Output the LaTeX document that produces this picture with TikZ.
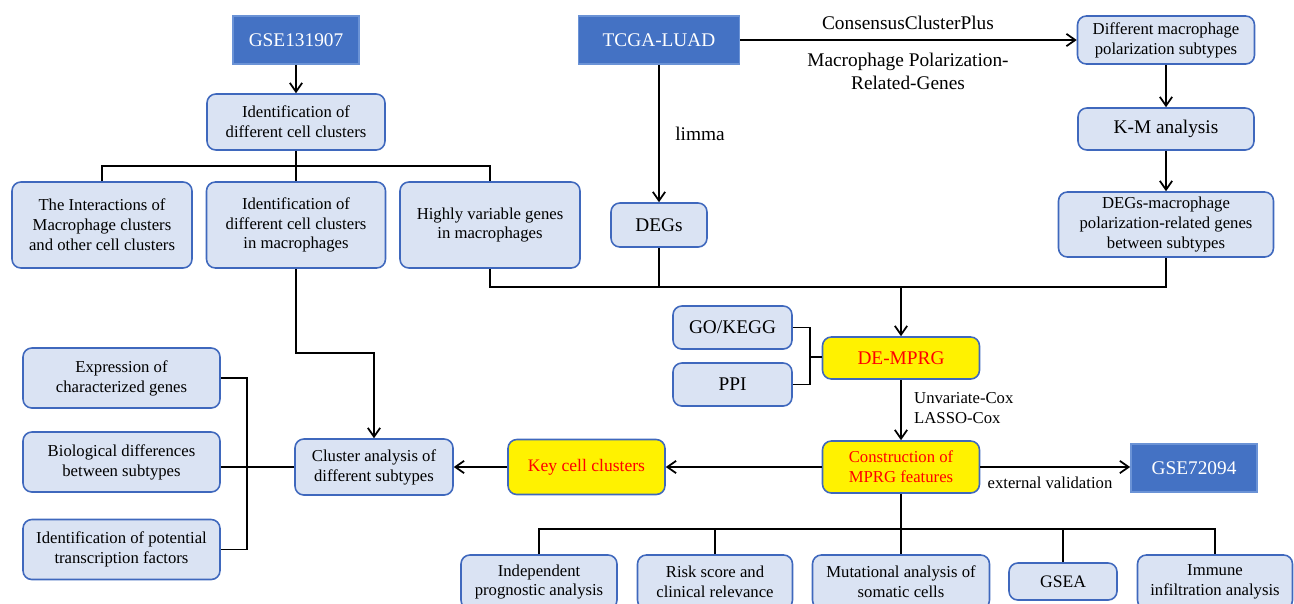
\documentclass[tikz,border=0pt]{standalone}
\usepackage{fontspec}
\setmainfont{Liberation Serif}
\usepackage{tikz}
\usetikzlibrary{arrows.meta}
\definecolor{darkbox}{HTML}{4472C4}
\definecolor{darkedge}{HTML}{6B93D6}
\definecolor{lightfill}{HTML}{DAE3F3}
\definecolor{edgeblue}{HTML}{3F68BD}

\begin{document}
\begin{tikzpicture}[x=0.02cm,y=-0.02cm,
	dataset/.style={draw=darkedge,line width=1pt,fill=darkbox,text=white,font=\fontsize{11}{13}\selectfont,inner sep=0pt},
	stepbox/.style={draw=edgeblue,line width=0.9pt,fill=lightfill,rounded corners=5pt,align=center,font=\fontsize{9.5}{11.3}\selectfont,inner sep=0pt},
	bigtxt/.style={font=\fontsize{11}{13}\selectfont},
	keybox/.style={stepbox,fill=yellow,text=red},
	link/.style={line width=1pt},
	arr/.style={link,-{Straight Barb[length=5pt,width=7pt]}}]
		\clip (0,0) rectangle (1294,603);
		% data sets and top row
		\node[dataset,minimum width=2.52cm,minimum height=0.96cm] (gse131) at (296,40) {GSE131907};
		\node[dataset,minimum width=3.22cm,minimum height=0.96cm] (tcga) at (659,40) {TCGA-LUAD};
		\node[stepbox,minimum width=3.54cm,minimum height=0.96cm] (subtypes) at (1166,40) {Different macrophage\\polarization subtypes};
		\node[stepbox,bigtxt,minimum width=3.52cm,minimum height=0.84cm] (km) at (1166,129) {K-M analysis};
		\node[stepbox,minimum width=4.3cm,minimum height=1.3cm] (degsmp) at (1166,224.5) {DEGs-macrophage\\polarization-related genes\\between subtypes};
		\node[stepbox,bigtxt,minimum width=1.92cm,minimum height=0.88cm] (degs) at (659,225) {DEGs};
		% single cell branch
		\node[stepbox,minimum width=3.56cm,minimum height=1.12cm] (cellcl) at (296,122) {Identification of\\different cell clusters};
		\node[stepbox,minimum width=3.6cm,minimum height=1.72cm] (interact) at (102,225) {The Interactions of\\Macrophage clusters\\and other cell clusters};
		\node[stepbox,minimum width=3.58cm,minimum height=1.72cm] (macrocl) at (296,225) {Identification of\\different cell clusters\\in macrophages};
		\node[stepbox,minimum width=3.6cm,minimum height=1.72cm] (hvg) at (490,225) {Highly variable genes\\in macrophages};
		% middle
		\node[stepbox,bigtxt,minimum width=2.38cm,minimum height=0.86cm] (gokegg) at (732.5,327.5) {GO/KEGG};
		\node[stepbox,bigtxt,minimum width=2.38cm,minimum height=0.86cm] (ppi) at (732.5,384.5) {PPI};
		\node[keybox,bigtxt,minimum width=3.14cm,minimum height=0.84cm] (dempg) at (901,358) {DE-MPRG};
		\node[keybox,minimum width=3.14cm,minimum height=1.04cm] (mprgfeat) at (901,467) {Construction of\\MPRG features};
		\node[keybox,font=\fontsize{10}{12}\selectfont,minimum width=3.14cm,minimum height=1.1cm] (keycell) at (586.5,467) {Key cell clusters};
		\node[stepbox,minimum width=3.16cm,minimum height=1.12cm] (clusan) at (374,467) {Cluster analysis of\\different subtypes};
		\node[dataset,minimum width=2.52cm,minimum height=0.96cm] (gse72) at (1194,468) {GSE72094};
		% left column
		\node[stepbox,minimum width=3.94cm,minimum height=1.2cm] (exprg) at (121.5,378) {Expression of\\characterized genes};
		\node[stepbox,minimum width=3.94cm,minimum height=1.2cm] (biodiff) at (121.5,462) {Biological differences\\between subtypes};
		\node[stepbox,minimum width=3.94cm,minimum height=1.2cm] (tfact) at (121.5,549.5) {Identification of potential\\transcription factors};
		% bottom row
		\node[stepbox,minimum width=3.12cm,minimum height=1.08cm] (indep) at (539,582) {Independent\\prognostic analysis};
		\node[stepbox,minimum width=3.1cm,minimum height=1.08cm] (risk) at (715,582) {Risk score and\\clinical relevance};
		\node[stepbox,minimum width=3.54cm,minimum height=1.08cm] (mutat) at (901,582) {Mutational analysis of\\somatic cells};
		\node[stepbox,font=\fontsize{10}{12}\selectfont,minimum width=2.16cm,minimum height=0.74cm] (gsea) at (1063,581.5) {GSEA};
		\node[stepbox,minimum width=3.1cm,minimum height=1.08cm] (immune) at (1215,582) {Immune\\infiltration analysis};
		% labels
		\node[bigtxt] (ccp) at (908,23) {ConsensusClusterPlus};
		\node[bigtxt,align=center] (mpgenes) at (908,71) {Macrophage Polarization-\\Related-Genes};
		\node[bigtxt] (limma) at (700,134) {limma};
		\node[font=\fontsize{9.5}{11.3}\selectfont,align=left,anchor=west] (coxlbl) at (908,408) {Unvariate-Cox\\LASSO-Cox};
		\node[font=\fontsize{9.5}{11.3}\selectfont] (extval) at (1050,483) {external validation};
		% joints
		\coordinate (split1) at (296,166);
		\coordinate (merge) at (901,287);
		\coordinate (bend) at (374,353);
		\coordinate (gojoin) at (810,357);
		\coordinate (lbrack) at (247,467);
		\coordinate (split2) at (901,529);
		% connectors
		\draw[arr] (gse131) -- (cellcl);
		\draw[link] (cellcl.south) -- (macrocl.north);
		\draw[link] (interact.north) |- (split1) -| (hvg.north);
		\draw[arr] (tcga) -- (subtypes);
		\draw[arr] (tcga) -- (degs);
		\draw[arr] (subtypes) -- (km);
		\draw[arr] (km) -- (degsmp);
		\draw[link] (hvg.south) |- (merge) -| (degsmp.south);
		\draw[link] (degs.south) -- (degs.south |- merge);
		\draw[arr] (merge) -- (dempg.north);
		\draw[link] (gokegg.east) -| (gojoin) |- (ppi.east);
		\draw[link] (gojoin) -- (gojoin -| dempg.west);
		\draw[arr] (macrocl.south) |- (bend) -- (clusan.north);
		\draw[arr] (dempg) -- (mprgfeat);
		\draw[arr] (mprgfeat) -- (keycell);
		\draw[arr] (keycell) -- (clusan);
		\draw[arr] (mprgfeat.east) -- (mprgfeat.east -| gse72.west);
		\draw[link] (exprg.east) -| (lbrack) |- (tfact.east);
		\draw[link] (biodiff.east |- clusan.west) -- (clusan.west);
		\draw[link] (mprgfeat.south) -- (mutat.north);
		\draw[link] (indep.north) |- (split2) -| (immune.north);
		\draw[link] (risk.north) -- (risk.north |- split2);
		\draw[link] (gsea.north) -- (gsea.north |- split2);
	\end{tikzpicture}
\end{document}
